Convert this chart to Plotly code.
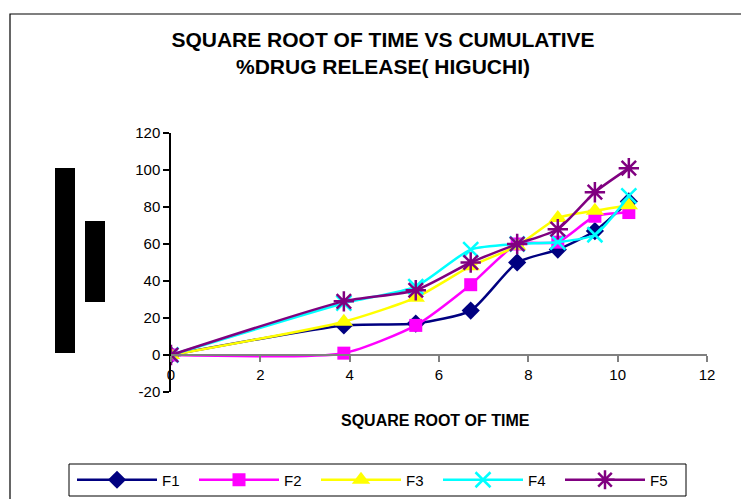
import plotly.graph_objects as go

# Data
sqrt_time = [0, 3.87, 5.48, 6.71, 7.75, 8.66, 9.49, 10.25]
f1 = [0, 16, 17, 24, 50, 57, 67, 83]
f2 = [0, 1, 16, 38, 60, 61, 75, 77]
f3 = [0, 18, 31, 48, 59, 74, 78, 81]
f4 = [0, 28, 37, 57, 60, 61, 65, 86]
f5 = [0, 29, 35, 50, 60, 68, 88, 101]

series_names = ["F1", "F2", "F3", "F4", "F5"]
series_values = [f1, f2, f3, f4, f5]
colors = ["#000080", "#FF00FF", "#FFFF00", "#00FFFF", "#800080"]
symbols = ["diamond", "square", "triangle-up", "x-thin-open", "asterisk-open"]
sizes = [14, 13, 16, 15, 17]

x_ticks = [0, 2, 4, 6, 8, 10, 12]
y_ticks = [-20, 0, 20, 40, 60, 80, 100, 120]

FONT = "Liberation Sans, Arial, sans-serif"

fig = go.Figure()
for name, vals, col, sym, sz in zip(series_names, series_values, colors, symbols, sizes):
    open_sym = sym.endswith("open")
    fig.add_trace(go.Scatter(
        x=sqrt_time, y=vals, name=name, mode="lines+markers",
        line=dict(color=col, width=2.5, shape="spline", smoothing=0.6),
        marker=dict(symbol=sym, size=sz, color=col,
                    line=dict(color=col, width=2.5 if open_sym else 0)),
    ))

# plot area in pixels: x 171..707, y 133..392
L, R, T, B = 171, 34, 133, 107
W, H = 741, 499
pw, ph = W - L - R, H - T - B

def px2x(px):
    return (px - L) / pw

def py2y(py):
    return (H - B - py) / ph

shapes = [
    # outer chart border
    dict(type="rect", xref="paper", yref="paper",
         x0=px2x(10), x1=px2x(760), y0=py2y(520), y1=py2y(14),
         line=dict(color="black", width=1.2), fillcolor="rgba(0,0,0,0)", layer="below"),
    # legend frame
    dict(type="rect", xref="paper", yref="paper",
         x0=px2x(69), x1=px2x(686), y0=py2y(496), y1=py2y(464),
         line=dict(color="black", width=1), fillcolor="white", layer="below"),
    # black blocks on the left (as in the reference image)
    dict(type="rect", xref="paper", yref="paper",
         x0=px2x(55), x1=px2x(75), y0=py2y(353), y1=py2y(168),
         line=dict(width=0), fillcolor="black"),
    dict(type="rect", xref="paper", yref="paper",
         x0=px2x(85), x1=px2x(105), y0=py2y(302), y1=py2y(221),
         line=dict(width=0), fillcolor="black"),
]

fig.update_layout(
    width=W, height=H,
    margin=dict(l=L, r=R, t=T, b=B, autoexpand=False),
    paper_bgcolor="white", plot_bgcolor="white",
    font=dict(family=FONT, size=14, color="black"),
    title=dict(
        text="SQUARE ROOT OF TIME VS CUMULATIVE<br>%DRUG RELEASE( HIGUCHI)",
        x=383 / W, xanchor="center",
        y=1 - 47 / H, yanchor="middle",
        font=dict(family=FONT, size=21, color="black", weight="bold"),
    ),
    xaxis=dict(
        range=[0, 12], tickvals=x_ticks, ticktext=[str(t) for t in x_ticks],
        showgrid=False, zeroline=False, showline=True, linecolor="#808080", linewidth=1.5,
        ticks="outside", ticklen=6, tickcolor="#808080", tickwidth=1.5,
        anchor="free", position=20 / 140,
        tickfont=dict(size=15),
    ),
    yaxis=dict(
        range=[-20, 120], tickvals=y_ticks, ticktext=[str(t) for t in y_ticks],
        showgrid=False, zeroline=False, showline=True, linecolor="black", linewidth=1.5,
        ticks="outside", ticklen=6, tickcolor="black", tickwidth=1.5,
        tickfont=dict(size=15),
    ),
    showlegend=True,
    legend=dict(
        orientation="h", x=px2x(72), xanchor="left", y=py2y(480), yanchor="middle",
        borderwidth=0, bgcolor="rgba(0,0,0,0)",
        font=dict(size=15), itemwidth=80, entrywidth=27, entrywidthmode="pixels",
        tracegroupgap=0,
    ),
    shapes=shapes,
    annotations=[dict(
        text="<b>SQUARE ROOT OF TIME</b>", xref="paper", yref="paper",
        x=px2x(435), y=py2y(420), xanchor="center", yanchor="middle",
        showarrow=False, font=dict(size=16, family=FONT, color="black"),
    )],
)

fig.write_html("out.html")
